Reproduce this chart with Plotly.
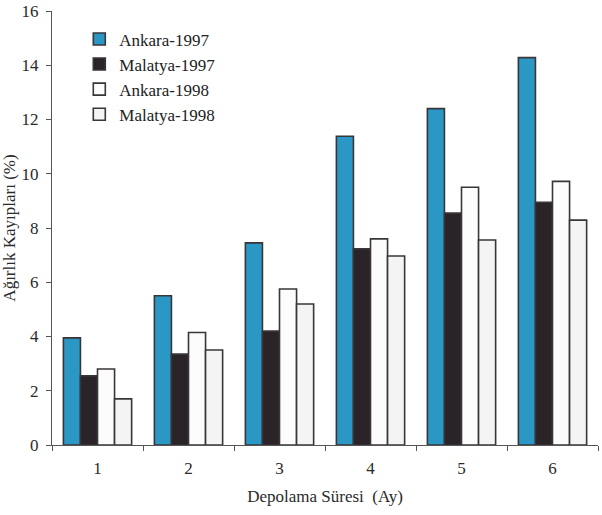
import plotly.graph_objects as go

categories = ["1", "2", "3", "4", "5", "6"]
ankara_1997 = [3.95, 5.5, 7.45, 11.38, 12.4, 14.28]
malatya_1997 = [2.55, 3.35, 4.2, 7.23, 8.55, 8.95]
ankara_1998 = [2.8, 4.15, 5.75, 7.6, 9.5, 9.72]
malatya_1998 = [1.7, 3.5, 5.2, 6.97, 7.56, 8.29]

series = [
    ("Ankara-1997", ankara_1997, "#2a97c4"),
    ("Malatya-1997", malatya_1997, "#2a2327"),
    ("Ankara-1998", ankara_1998, "#fdfcfc"),
    ("Malatya-1998", malatya_1998, "#f4f4f4"),
]

font = "Liberation Serif"

fig = go.Figure()
for i, (name, vals, col) in enumerate(series):
    fig.add_trace(go.Bar(
        x=categories, y=vals, name=name, legendgroup=f"g{i}",
        marker=dict(color=col, line=dict(color="#3a3538", width=1.6)),
    ))

fig.update_layout(
    width=602, height=515,
    barmode="group", bargap=0.25, bargroupgap=0,
    paper_bgcolor="white", plot_bgcolor="white",
    margin=dict(l=52, r=4, t=11, b=70),
    font=dict(family=font, size=17, color="#2a2a2a"),
    showlegend=True,
    legend=dict(x=0.05, y=0.976, xanchor="left", yanchor="top",
                bgcolor="rgba(0,0,0,0)", font=dict(family=font, size=17, color="#222"),
                tracegroupgap=0, itemwidth=30),
    xaxis=dict(
        title=dict(text="Depolama Süresi  (Ay)", font=dict(family=font, size=17), standoff=12),
        showline=True, linecolor="#555", linewidth=1, automargin=False,
        ticks="outside", tickson="boundaries", ticklen=5, tickcolor="#555",
        ticklabelstandoff=8,
        showgrid=False, tickfont=dict(family=font, size=17),
    ),
    yaxis=dict(
        title=dict(text="Ağırlık Kayıpları (%)", font=dict(family=font, size=17), standoff=2),
        range=[0, 16], dtick=2, showline=True, linecolor="#555", linewidth=1, automargin=False,
        ticks="outside", ticklen=5, tickcolor="#555", ticklabelstandoff=4,
        showgrid=False, zeroline=False, tickfont=dict(family=font, size=17),
    ),
)

fig.write_html("out.html", config={"displayModeBar": False},
               post_script="document.body.style.margin='0';")
